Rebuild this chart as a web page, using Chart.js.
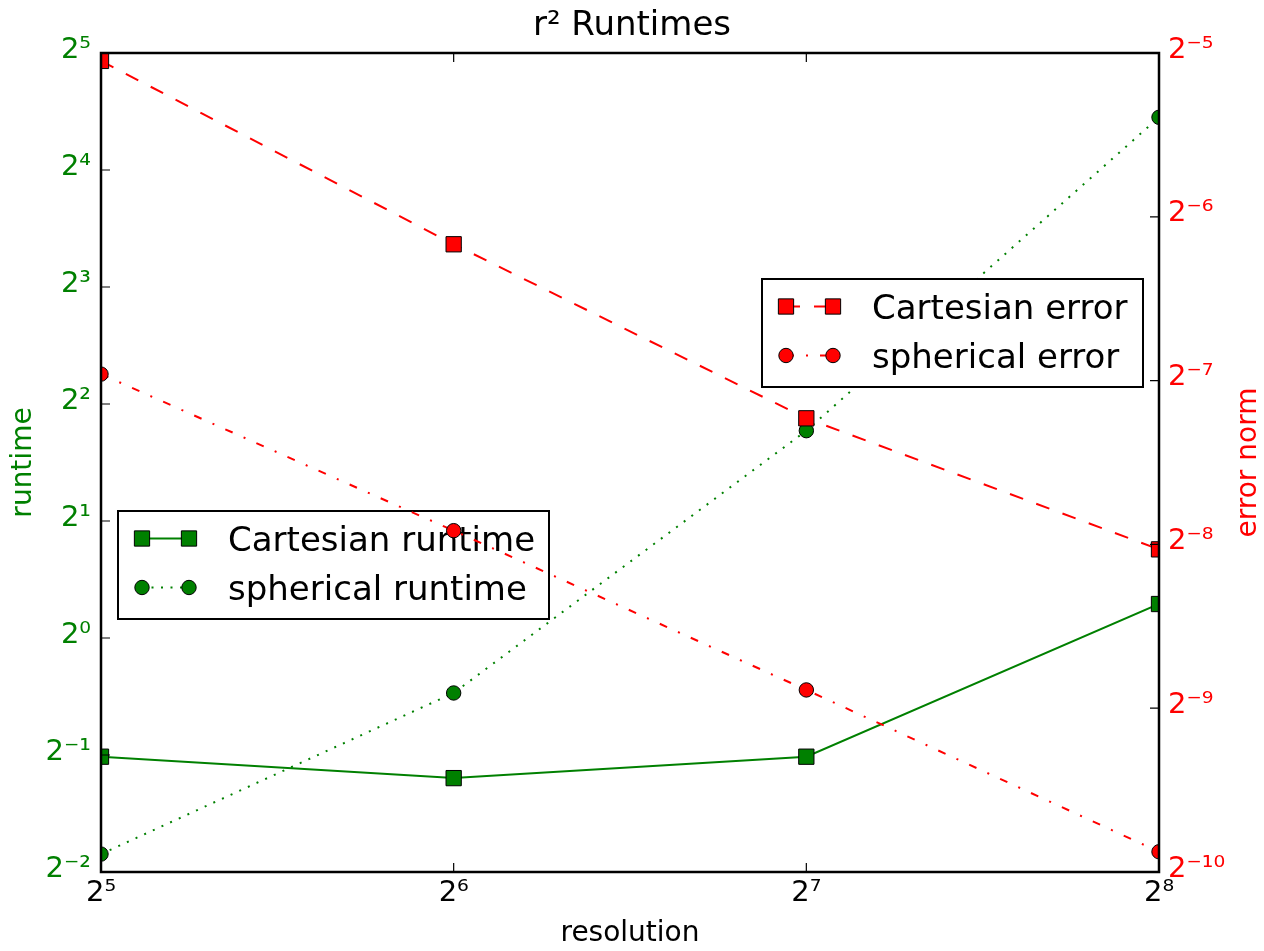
<!DOCTYPE html>
<html>
<head>
<meta charset="utf-8">
<script src="https://cdn.jsdelivr.net/npm/chart.js@4.4.1/dist/chart.umd.min.js"></script>
<style>
  html, body { margin: 0; padding: 0; background: #fff; }
  #wrap { width: 1264px; height: 951px; }
</style>
</head>
<body>
<div id="wrap"><canvas id="chart" width="1264" height="951"></canvas></div>
<script>
// values
const resolution = [32, 64, 128, 256]
const cartesianRuntime = [0.495, 0.436, 0.495, 1.223]
const sphericalRuntime = [0.278, 0.722, 3.415, 21.86]
const cartesianError = [0.03022, 0.01391, 0.00666, 0.003825]
const sphericalError = [0.00803, 0.00414, 0.00211, 0.001064]

// tick exponents (base 2)
const xTickExp = [5, 6, 7, 8]
const runtimeTickExp = [-2, -1, 0, 1, 2, 3, 4, 5]
const errorTickExp = [-10, -9, -8, -7, -6, -5]

const GREEN = "#008000"
const RED = "#ff0000"
const FONT = "DejaVu Sans"

const SUP = { "0": "⁰", "1": "¹", "2": "²", "3": "³", "4": "⁴", "5": "⁵", "6": "⁶", "7": "⁷", "8": "⁸", "9": "⁹", "-": "⁻" }
const powLabel = (exp) => "2" + String(exp).split("").map((c) => SUP[c]).join("")
const tickLabel = (value) => powLabel(Math.round(Math.log2(value)))
const setTicks = (exps) => (scale) => {
  scale.ticks = exps.map((e) => ({ value: Math.pow(2, e) }))
}
const pts = (arr) => resolution.map((x, i) => ({ x: x, y: arr[i] }))

Chart.defaults.font.family = FONT

function drawMarker(ctx, style, radius, x, y) {
  ctx.beginPath()
  if (style === "rect") {
    const s = Math.SQRT1_2 * radius
    ctx.rect(x - s, y - s, 2 * s, 2 * s)
  } else {
    ctx.arc(x, y, radius, 0, Math.PI * 2)
  }
  ctx.fill()
  ctx.stroke()
}

function drawLegendBox(chart, idxs, box) {
  const ctx = chart.ctx
  ctx.save()
  ctx.fillStyle = "#fff"
  ctx.strokeStyle = "#000"
  ctx.lineWidth = 2
  ctx.fillRect(box.x, box.y, box.w, box.h)
  ctx.strokeRect(box.x, box.y, box.w, box.h)
  idxs.forEach((di, row) => {
    const ds = chart.data.datasets[di]
    const ry = box.y + 27.5 + row * 49
    const x1 = box.x + 24
    const x2 = box.x + 71
    ctx.beginPath()
    ctx.setLineDash(ds.borderDash || [])
    ctx.strokeStyle = ds.borderColor
    ctx.lineWidth = ds.borderWidth
    ctx.moveTo(x1, ry)
    ctx.lineTo(x2, ry)
    ctx.stroke()
    ctx.setLineDash([])
    ctx.fillStyle = ds.pointBackgroundColor
    ctx.strokeStyle = "#000"
    ctx.lineWidth = 1
    drawMarker(ctx, ds.pointStyle, ds.pointRadius, x1, ry)
    drawMarker(ctx, ds.pointStyle, ds.pointRadius, x2, ry)
    ctx.fillStyle = "#000"
    ctx.font = "34px " + FONT
    ctx.textAlign = "left"
    ctx.textBaseline = "alphabetic"
    ctx.fillText(ds.label, box.x + 110, ry + 12.4)
  })
  ctx.restore()
}

const mplDecor = {
  id: "mplDecor",
  afterDatasetDraw(chart, args) {
    // runtime legend sits between the runtime lines and the error lines
    if (args.index === 1) drawLegendBox(chart, [0, 1], { x: 118, y: 511, w: 431, h: 108 })
  },
  afterDatasetsDraw(chart) {
    drawLegendBox(chart, [2, 3], { x: 762, y: 279, w: 381, h: 108 })

    const ctx = chart.ctx
    const a = chart.chartArea
    const sx = chart.scales.x
    const sy = chart.scales.y
    const sy1 = chart.scales.y1
    const tl = 9
    ctx.save()
    ctx.strokeStyle = "#000"
    ctx.lineWidth = 1.2
    ctx.beginPath()
    sx.ticks.forEach((t) => {
      const px = sx.getPixelForValue(t.value)
      ctx.moveTo(px, a.bottom)
      ctx.lineTo(px, a.bottom - tl)
      ctx.moveTo(px, a.top)
      ctx.lineTo(px, a.top + tl)
    })
    sy.ticks.forEach((t) => {
      const py = sy.getPixelForValue(t.value)
      ctx.moveTo(a.left, py)
      ctx.lineTo(a.left + tl, py)
    })
    sy1.ticks.forEach((t) => {
      const py = sy1.getPixelForValue(t.value)
      ctx.moveTo(a.right, py)
      ctx.lineTo(a.right - tl, py)
    })
    ctx.stroke()

    ctx.lineWidth = 2.5
    ctx.strokeRect(a.left, a.top, a.right - a.left, a.bottom - a.top)
    ctx.restore()
  },
  afterDraw(chart) {
    // right axis title reads bottom-to-top like the left one
    const sy1 = chart.scales.y1
    const t = sy1.options.title
    const ctx = chart.ctx
    const a = chart.chartArea
    ctx.save()
    ctx.translate(1248.3, (a.top + a.bottom) / 2)
    ctx.rotate(-Math.PI / 2)
    ctx.fillStyle = RED
    ctx.font = "28px " + FONT
    ctx.textAlign = "center"
    ctx.textBaseline = "middle"
    ctx.fillText(t.text, 0, 0)
    ctx.restore()
  },
}

const baseDs = {
  borderWidth: 2,
  pointBorderColor: "#000",
  pointBorderWidth: 1,
  pointHoverBorderWidth: 1,
  tension: 0,
  clip: 0,
  fill: false,
}

new Chart(document.getElementById("chart"), {
  type: "line",
  data: {
    datasets: [
      {
        ...baseDs,
        label: "Cartesian runtime",
        data: pts(cartesianRuntime),
        yAxisID: "y",
        borderColor: GREEN,
        backgroundColor: GREEN,
        pointBackgroundColor: GREEN,
        pointStyle: "rect",
        pointRadius: 10.8,
        pointHoverRadius: 10.8,
        borderDash: [],
        order: 4,
      },
      {
        ...baseDs,
        label: "spherical runtime",
        data: pts(sphericalRuntime),
        yAxisID: "y",
        borderColor: GREEN,
        backgroundColor: GREEN,
        pointBackgroundColor: GREEN,
        pointStyle: "circle",
        pointRadius: 7.2,
        pointHoverRadius: 7.2,
        borderDash: [2, 7.5],
        order: 3,
      },
      {
        ...baseDs,
        label: "Cartesian error",
        data: pts(cartesianError),
        yAxisID: "y1",
        borderColor: RED,
        backgroundColor: RED,
        pointBackgroundColor: RED,
        pointStyle: "rect",
        pointRadius: 10.8,
        pointHoverRadius: 10.8,
        borderDash: [14, 14],
        order: 2,
      },
      {
        ...baseDs,
        label: "spherical error",
        data: pts(sphericalError),
        yAxisID: "y1",
        borderColor: RED,
        backgroundColor: RED,
        pointBackgroundColor: RED,
        pointStyle: "circle",
        pointRadius: 7.2,
        pointHoverRadius: 7.2,
        borderDash: [8, 12, 2, 12],
        order: 1,
      },
    ],
  },
  options: {
    responsive: false,
    animation: false,
    devicePixelRatio: 1,
    layout: { padding: 0 },
    events: [],
    plugins: {
      legend: { display: false },
      tooltip: { enabled: false },
      title: {
        display: true,
        text: "r² Runtimes",
        color: "#000",
        font: { family: FONT, size: 34, weight: "normal" },
        padding: { top: 5.8, bottom: 6.4 },
      },
    },
    scales: {
      x: {
        type: "logarithmic",
        position: "bottom",
        min: 32,
        max: 256,
        afterBuildTicks: setTicks(xTickExp),
        afterFit: (s) => { s.height = 79 },
        ticks: {
          callback: tickLabel,
          color: "#000",
          font: { family: FONT, size: 29 },
          padding: 4,
          autoSkip: false,
          maxRotation: 0,
        },
        grid: { display: false, drawTicks: false },
        border: { display: false },
        title: {
          display: true,
          text: "resolution",
          color: "#000",
          font: { family: FONT, size: 28 },
          padding: { top: 0, bottom: 0 },
        },
      },
      y: {
        type: "logarithmic",
        position: "left",
        min: 0.25,
        max: 32,
        afterBuildTicks: setTicks(runtimeTickExp),
        afterFit: (s) => { s.width = 101 },
        ticks: {
          callback: tickLabel,
          color: GREEN,
          font: { family: FONT, size: 29 },
          padding: 10,
          labelOffset: -3,
          autoSkip: false,
        },
        grid: { display: false, drawTicks: false },
        border: { display: false },
        title: {
          display: true,
          text: "runtime",
          color: GREEN,
          font: { family: FONT, size: 28 },
          padding: { top: 6.5, bottom: 0 },
        },
      },
      y1: {
        type: "logarithmic",
        position: "right",
        min: 0.0009765625,
        max: 0.03125,
        afterBuildTicks: setTicks(errorTickExp),
        afterFit: (s) => { s.width = 105 },
        ticks: {
          callback: tickLabel,
          color: RED,
          font: { family: FONT, size: 29 },
          padding: 9,
          labelOffset: -3,
          autoSkip: false,
        },
        grid: { display: false, drawTicks: false },
        border: { display: false },
        title: { display: false, text: "error norm" },
      },
    },
  },
  plugins: [mplDecor],
})
</script>
</body>
</html>
